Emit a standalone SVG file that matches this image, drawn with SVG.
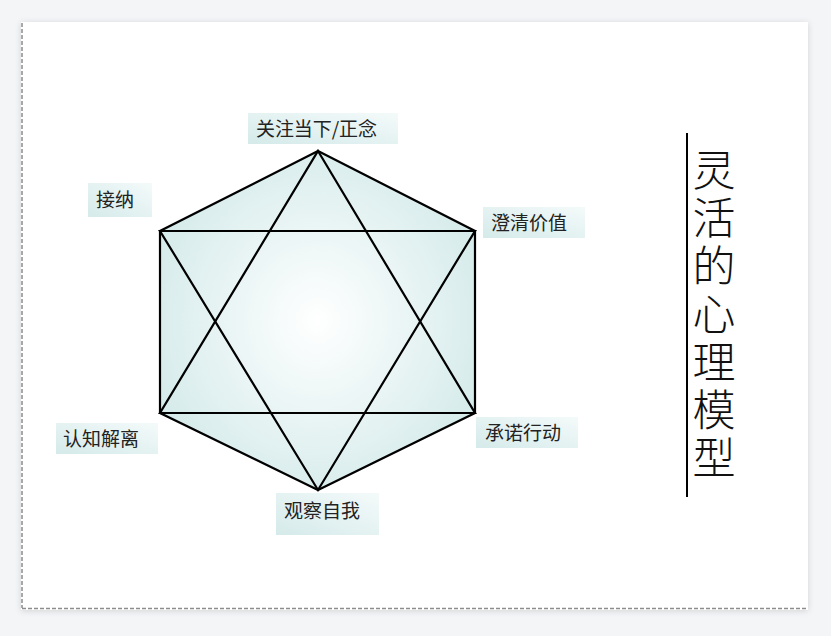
<svg xmlns="http://www.w3.org/2000/svg" width="831" height="636" viewBox="0 0 831 636">
<defs>
<filter id="sh" x="-5%" y="-5%" width="110%" height="110%">
<feGaussianBlur stdDeviation="3"/>
</filter>
<radialGradient id="hexFill" cx="50%" cy="50%" r="55%">
<stop offset="0" stop-color="#ffffff"/>
<stop offset="1" stop-color="#d6ebeb"/>
</radialGradient>
<linearGradient id="lblFill" x1="0" y1="1" x2="1" y2="0">
<stop offset="0" stop-color="#d5eaea"/>
<stop offset="1" stop-color="#f4fafa"/>
</linearGradient>
<style>
.lbl rect{fill:url(#lblFill);}
.lbl text{font-family:"Noto Sans CJK SC","Liberation Sans",sans-serif;font-size:19px;fill:#222;}
.edge{stroke:#000;stroke-width:2.2;fill:none;stroke-linejoin:miter;}
.dash{stroke:#8c8c8c;stroke-width:1.5;stroke-dasharray:4 2;fill:none;}
.title{font-family:"Liberation Serif","Noto Sans CJK SC",serif;font-size:43px;font-weight:300;fill:#111;text-anchor:middle;}
</style>
</defs>
<rect x="0" y="0" width="831" height="636" fill="#f4f5f7"/>
<rect x="21" y="23" width="787" height="588" fill="#d0d3d6" filter="url(#sh)"/>
<rect x="21" y="22" width="787" height="588" fill="#ffffff"/>
<line class="dash" x1="22" y1="23" x2="22" y2="608"/>
<line class="dash" x1="22" y1="608.5" x2="807" y2="608.5"/>

<g id="hexagon">
<polygon points="318,151 475,231 475,413 318,490 160,413 160,231" fill="url(#hexFill)"/>
</g>
<g id="connectors">
<polygon class="edge" points="318,151 475,231 475,413 318,490 160,413 160,231"/>
<polygon class="edge" points="318,151 475,413 160,413"/>
<polygon class="edge" points="160,231 475,231 318,490"/>
</g>

<g id="node-mindfulness" class="lbl">
<rect x="248" y="113" width="150" height="31"/>
<text x="256" y="136" textLength="121" lengthAdjust="spacing">关注当下/正念</text>
</g>
<g id="node-acceptance" class="lbl">
<rect x="88" y="183" width="64" height="34"/>
<text x="96" y="207">接纳</text>
</g>
<g id="node-values" class="lbl">
<rect x="483" y="207" width="102" height="31"/>
<text x="491" y="230">澄清价值</text>
</g>
<g id="node-defusion" class="lbl">
<rect x="56" y="423" width="102" height="31"/>
<text x="63" y="446">认知解离</text>
</g>
<g id="node-action" class="lbl">
<rect x="476" y="417" width="102" height="31"/>
<text x="485" y="440">承诺行动</text>
</g>
<g id="node-self" class="lbl">
<rect x="276" y="493" width="103" height="42"/>
<text x="284" y="518">观察自我</text>
</g>

<g id="title">
<line x1="687" y1="133" x2="687" y2="497" stroke="#000" stroke-width="2"/>
<text class="title" x="714" y="186">灵</text>
<text class="title" x="714" y="234">活</text>
<text class="title" x="714" y="282">的</text>
<text class="title" x="714" y="330">心</text>
<text class="title" x="714" y="378">理</text>
<text class="title" x="714" y="426">模</text>
<text class="title" x="714" y="474">型</text>
</g>
</svg>
